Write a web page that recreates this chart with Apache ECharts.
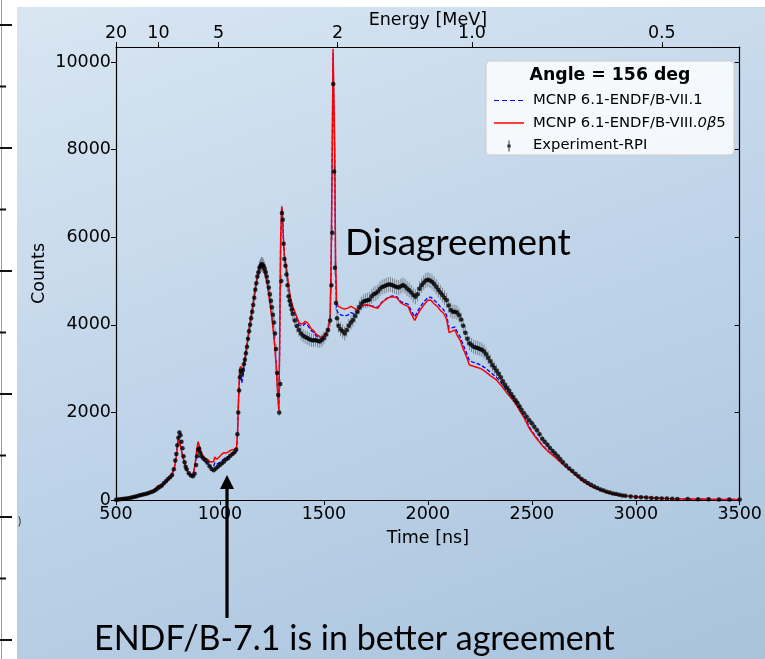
<!DOCTYPE html>
<html><head><meta charset="utf-8">
<script src="https://cdn.jsdelivr.net/npm/echarts@6/dist/echarts.min.js"></script>
<style>
html,body{margin:0;padding:0;background:#fff;overflow:hidden;}
#bg{position:absolute;left:17px;top:7px;width:748px;height:652px;background:linear-gradient(160deg,#d9e6f2 0%,#bfd4e9 50%,#a9c3dd 100%);}
#main{position:absolute;left:0;top:0;width:765px;height:659px;}
</style></head><body>
<div id="bg"></div><div id="main"></div>
<script>
// ---- data ----
const timeTicks = [500, 1000, 1500, 2000, 2500, 3000, 3500];
const countTicks = [0, 2000, 4000, 6000, 8000, 10000];
const energyLabels = ['20', '10', '5', '2', '1.0', '0.5'];
const energyValues = [20, 10, 5, 2, 1.0, 0.5];
// time-of-flight conversion t[ns] = tofOffset + tofConst / sqrt(E[MeV])
const tofOffset = 7;
const tofConst = 2205;

const seriesNames = ['MCNP 6.1-ENDF/B-VII.1', 'MCNP 6.1-ENDF/B-VIII.0β5', 'Experiment-RPI'];

// experiment: [time, counts, error]
const expData = [
[500,8,5],[510,12,5],[520,18,6],[530,22,6],[540,28,6],[550,35,7],[560,42,7],[570,52,8],[580,62,8],[590,75,9],[600,88,10],[610,100,10],[620,112,11],[630,125,11],[640,138,12],[650,150,12],[660,165,13],[670,180,13],[680,200,14],[690,230,15],[700,260,16],[710,295,17],[720,330,18],[730,380,20],[740,430,21],[750,480,22],[760,520,23],[770,570,24],[778,700,26],[785,900,30],[790,1050,32],[795,1250,35],[800,1420,38],[805,1540,40],[810,1480,40],[815,1330,36],[820,1180,34],[825,1000,32],[830,860,30],[835,760,28],[840,700,26],[850,610,25],[860,560,24],[870,540,23],[878,600,24],[885,800,28],[890,1000,32],[895,1150,34],[900,1170,34],[905,1080,33],[910,1000,32],[920,950,31],[930,910,30],[940,850,29],[950,770,28],[960,710,27],[970,680,26],[980,720,27],[990,760,28],[1000,800,28],[1010,840,29],[1020,880,30],[1030,930,30],[1040,960,31],[1050,1010,32],[1060,1050,32],[1070,1090,33],[1078,1150,34],[1084,1500,40],[1088,2000,45],[1092,2500,50],[1096,2800,60],[1100,2950,70],[1105,2880,70],[1110,2960,80],[1115,3100,80],[1120,3200,90],[1125,3350,90],[1130,3500,100],[1135,3680,100],[1140,3850,110],[1145,4000,110],[1150,4150,120],[1155,4300,120],[1160,4450,130],[1165,4620,130],[1170,4800,140],[1175,4950,140],[1180,5100,150],[1185,5200,150],[1190,5300,160],[1195,5350,160],[1200,5380,170],[1205,5370,170],[1210,5340,160],[1215,5280,160],[1220,5200,150],[1225,5100,150],[1230,4980,150],[1235,4850,150],[1240,4700,140],[1245,4550,140],[1250,4400,140],[1255,4230,130],[1260,4050,130],[1265,3800,120],[1270,3450,110],[1275,2900,100],[1280,2400,90],[1285,2000,80],[1290,2650,100],[1295,5000,140],[1298,6550,170],[1302,6400,170],[1306,5850,160],[1310,5500,160],[1315,5350,160],[1320,5150,160],[1325,4900,150],[1330,4650,150],[1335,4550,150],[1340,4450,150],[1345,4350,150],[1350,4250,150],[1360,4100,150],[1370,3970,150],[1380,3880,150],[1390,3800,150],[1400,3750,150],[1410,3720,150],[1420,3700,150],[1430,3670,150],[1440,3650,150],[1450,3640,150],[1460,3650,150],[1470,3630,150],[1480,3620,150],[1490,3650,150],[1500,3700,150],[1510,3780,150],[1520,3880,150],[1530,4100,150],[1536,4900,160],[1540,6100,170],[1545,9500,200],[1549,7500,180],[1553,5300,160],[1558,4500,160],[1563,4150,160],[1570,3980,160],[1580,3900,160],[1590,3850,160],[1600,3800,160],[1610,3880,160],[1620,3980,160],[1630,4050,160],[1640,4110,160],[1650,4200,160],[1660,4300,160],[1670,4400,160],[1680,4480,160],[1690,4530,160],[1700,4550,170],[1710,4560,170],[1720,4580,170],[1730,4650,170],[1740,4700,170],[1750,4720,170],[1760,4760,170],[1770,4820,170],[1780,4860,170],[1790,4880,170],[1800,4900,170],[1810,4920,170],[1820,4920,170],[1830,4900,170],[1840,4880,170],[1850,4860,170],[1860,4850,170],[1870,4880,170],[1880,4910,170],[1890,4880,170],[1900,4830,170],[1910,4790,170],[1920,4740,170],[1930,4680,170],[1940,4640,170],[1950,4700,170],[1960,4820,170],[1970,4900,170],[1980,4960,170],[1990,5010,170],[2000,5030,170],[2010,5010,170],[2020,4980,170],[2030,4930,170],[2040,4870,170],[2050,4800,170],[2060,4740,170],[2070,4680,170],[2080,4620,170],[2090,4560,170],[2100,4440,170],[2110,4340,170],[2120,4300,160],[2130,4300,160],[2140,4280,160],[2150,4220,160],[2160,4120,160],[2170,3980,160],[2180,3820,160],[2190,3680,160],[2200,3580,160],[2210,3540,160],[2220,3500,160],[2230,3480,160],[2240,3470,160],[2250,3450,160],[2260,3430,160],[2270,3390,160],[2280,3330,150],[2290,3250,150],[2300,3170,150],[2310,3080,140],[2320,3020,140],[2330,2950,140],[2340,2880,130],[2350,2800,130],[2360,2710,130],[2370,2630,120],[2380,2560,120],[2390,2500,120],[2400,2420,110],[2410,2350,110],[2420,2280,110],[2430,2220,100],[2440,2140,100],[2450,2060,100],[2462,1980,90],[2475,1900,90],[2487,1820,90],[2500,1750,80],[2512,1670,80],[2525,1590,80],[2537,1500,70],[2550,1400,70],[2562,1330,65],[2575,1260,65],[2587,1190,60],[2600,1120,60],[2612,1060,60],[2625,1000,55],[2637,930,55],[2650,860,55],[2665,790,50],[2680,720,50],[2695,660,45],[2710,600,45],[2725,540,40],[2740,480,40],[2755,435,38],[2770,390,36],[2785,350,34],[2800,310,32],[2815,275,30],[2830,240,28],[2845,215,26],[2860,190,25],[2875,170,24],[2890,150,22],[2905,135,20],[2920,120,20],[2935,105,18],[2950,95,18],[2975,82,16],[3000,70,15],[3025,62,14],[3050,55,13],[3075,47,12],[3100,40,12],[3125,36,11],[3150,32,10],[3175,28,10],[3200,25,9],[3250,21,8],[3300,18,8],[3350,16,7],[3400,14,7],[3450,13,7],[3500,12,6]
];

// MCNP 6.1 with ENDF/B-VII.1 (blue dashed)
const endf71 = [
[500,10],[550,30],[600,80],[650,140],[680,200],[700,300],[710,320],[720,300],[740,420],[760,500],[780,720],[790,1050],[800,1450],[805,1440],[810,1300],[820,1020],[830,840],[840,700],[850,600],[860,570],[870,560],[880,760],[890,1100],[895,1220],[900,1180],[910,1020],[920,940],[930,880],[940,830],[950,780],[960,760],[970,770],[975,850],[985,820],[1000,860],[1010,900],[1020,940],[1030,960],[1040,990],[1050,1020],[1060,1050],[1070,1080],[1080,1120],[1085,1550],[1090,2350],[1095,2850],[1100,2800],[1105,2670],[1110,2800],[1120,3150],[1130,3500],[1140,3860],[1150,4180],[1160,4480],[1170,4830],[1180,5100],[1190,5310],[1200,5360],[1210,5300],[1220,5150],[1230,4900],[1240,4550],[1250,4200],[1260,3750],[1270,3150],[1278,2450],[1283,2080],[1287,3400],[1292,5900],[1297,6650],[1300,6550],[1305,5950],[1310,5550],[1320,5250],[1330,4850],[1340,4550],[1350,4370],[1360,4250],[1370,4130],[1380,4000],[1390,3970],[1400,3980],[1410,4030],[1420,4000],[1430,3930],[1440,3860],[1450,3830],[1460,3760],[1470,3720],[1480,3700],[1490,3700],[1500,3740],[1510,3790],[1520,3880],[1530,4150],[1535,5400],[1540,7900],[1544,10200],[1548,10200],[1552,7800],[1556,5300],[1561,4350],[1570,4250],[1585,4220],[1600,4200],[1615,4220],[1630,4280],[1645,4250],[1665,4280],[1680,4400],[1700,4450],[1720,4440],[1740,4420],[1760,4400],[1775,4500],[1790,4560],[1810,4630],[1830,4660],[1850,4640],[1870,4530],[1890,4490],[1905,4470],[1920,4320],[1937,4180],[1950,4300],[1965,4420],[1980,4520],[2000,4620],[2015,4630],[2030,4560],[2045,4500],[2060,4410],[2075,4350],[2090,4220],[2102,3920],[2115,3930],[2130,3950],[2142,3830],[2155,3730],[2170,3540],[2185,3370],[2200,3180],[2215,3150],[2235,3120],[2255,3080],[2280,3000],[2300,2920],[2330,2800],[2355,2660],[2380,2500],[2410,2330],[2430,2180],[2460,1940],[2490,1650],[2520,1440],[2554,1230],[2585,1090],[2619,950],[2650,810],[2683,690],[2715,555],[2747,425],[2780,325],[2827,232],[2870,162],[2907,117],[2950,96],[3003,76],[3080,50],[3147,35],[3230,25],[3308,20],[3400,14],[3500,10]
];

// MCNP 6.1 with ENDF/B-VIII.0beta5 (red solid)
const endf80 = [
[500,10],[550,30],[600,80],[650,140],[680,200],[700,320],[710,340],[720,300],[740,420],[760,500],[780,700],[790,1000],[800,1400],[805,1380],[810,1250],[820,1000],[830,830],[840,700],[850,600],[860,580],[870,570],[880,800],[890,1200],[895,1330],[900,1250],[910,1080],[920,1000],[930,950],[940,930],[950,880],[960,870],[970,880],[975,980],[985,930],[1000,1000],[1010,1050],[1020,1080],[1030,1070],[1040,1100],[1050,1130],[1060,1150],[1070,1160],[1080,1200],[1085,1600],[1090,2400],[1095,3000],[1100,3050],[1110,2950],[1120,3250],[1130,3550],[1140,3900],[1150,4200],[1160,4500],[1170,4850],[1180,5100],[1190,5300],[1200,5320],[1210,5250],[1220,5100],[1230,4850],[1240,4500],[1250,4150],[1260,3700],[1270,3100],[1278,2400],[1283,2050],[1287,3500],[1292,6000],[1297,6700],[1300,6600],[1305,6000],[1310,5600],[1320,5300],[1330,4900],[1340,4600],[1350,4420],[1360,4300],[1370,4180],[1380,4050],[1390,4020],[1400,4030],[1410,4080],[1420,4050],[1430,3980],[1440,3900],[1450,3870],[1460,3800],[1470,3760],[1480,3730],[1490,3720],[1500,3760],[1510,3800],[1520,3900],[1530,4200],[1535,5500],[1540,8000],[1544,10300],[1548,10300],[1552,8000],[1556,5500],[1561,4500],[1570,4420],[1585,4380],[1600,4360],[1615,4380],[1630,4420],[1645,4380],[1665,4330],[1680,4420],[1700,4460],[1720,4440],[1740,4400],[1760,4380],[1775,4490],[1790,4550],[1810,4620],[1830,4640],[1850,4620],[1870,4500],[1890,4450],[1905,4420],[1920,4250],[1937,4100],[1950,4230],[1965,4350],[1980,4450],[2000,4560],[2015,4560],[2030,4480],[2045,4420],[2060,4330],[2075,4270],[2090,4130],[2102,3820],[2115,3850],[2130,3880],[2142,3750],[2155,3650],[2170,3450],[2185,3280],[2200,3080],[2215,3060],[2235,3030],[2255,3000],[2280,2920],[2300,2840],[2330,2740],[2355,2600],[2380,2440],[2410,2280],[2430,2130],[2460,1900],[2490,1620],[2520,1420],[2554,1220],[2585,1080],[2619,950],[2650,810],[2683,685],[2715,550],[2747,420],[2780,320],[2827,230],[2870,160],[2907,115],[2950,95],[3003,75],[3080,50],[3147,35],[3230,25],[3308,20],[3400,14],[3500,10]
];

// ---- chart ----
const energyTimes = energyValues.map(E => tofOffset + tofConst / Math.sqrt(E));
const FONT = 'DejaVu Sans';
const FS = 17.5;
const LFS = 14.8;
const chart = echarts.init(document.getElementById('main'), null, {renderer: 'canvas'});

const axisCommon = {
  axisLine: {show: true, onZero: false, lineStyle: {color: '#000', width: 1.2}},
  splitLine: {show: false},
  axisLabel: {color: '#000', fontFamily: FONT, fontSize: FS, formatter: v => String(v)},
  nameTextStyle: {color: '#000', fontFamily: FONT, fontSize: FS},
  nameMoveOverlap: false
};

// legend icons (bbox padded to 30x14 with tiny corner points)
const BOX = ' M0,0 L0.01,0 L0,0.01 Z M30,14 L29.99,14 L30,13.99 Z';
const redIcon = 'path://M0,6.3 L30,6.3 L30,7.7 L0,7.7 Z' + BOX;
const blueIcon = 'path://M0,6.4 L5,6.4 L5,7.6 L0,7.6 Z M8,6.4 L13,6.4 L13,7.6 L8,7.6 Z M16,6.4 L21,6.4 L21,7.6 L16,7.6 Z M24,6.4 L29,6.4 L29,7.6 L24,7.6 Z' + BOX;
const expIcon = 'path://M14.5,2 L15.5,2 L15.5,13 L14.5,13 Z M13.4,6 L16.6,6 L16.6,9 L13.4,9 Z' + BOX;

const option = {
  animation: false,
  backgroundColor: 'transparent',
  grid: {left: 116, right: 25, top: 47, bottom: 159, containLabel: false},
  xAxis: [
    Object.assign({}, axisCommon, {
      type: 'value', position: 'bottom', min: 500, max: 3500, interval: 500,
      name: 'Time [ns]', nameLocation: 'middle', nameGap: 29,
      axisTick: {show: true, inside: false, length: 5, lineStyle: {color: '#000'}},
      axisLabel: Object.assign({}, axisCommon.axisLabel, {margin: 5})
    }),
    Object.assign({}, axisCommon, {
      type: 'value', position: 'top', min: 500, max: 3500,
      name: 'Energy [MeV]', nameLocation: 'middle', nameGap: 18,
      axisTick: {show: true, inside: false, length: 5, customValues: energyTimes, lineStyle: {color: '#000'}},
      axisLabel: Object.assign({}, axisCommon.axisLabel, {
        margin: 5, customValues: energyTimes,
        formatter: function (v) {
          const i = energyTimes.findIndex(x => Math.abs(x - v) < 0.5);
          return i >= 0 ? energyLabels[i] : '';
        }
      })
    })
  ],
  yAxis: [
    Object.assign({}, axisCommon, {
      type: 'value', position: 'left', min: 0, max: 10342, interval: 2000,
      name: 'Counts', nameLocation: 'middle', nameGap: 68, nameRotate: 90,
      axisTick: {show: true, inside: false, length: 5, customValues: countTicks, lineStyle: {color: '#000'}},
      axisLabel: Object.assign({}, axisCommon.axisLabel, {margin: 5, customValues: countTicks})
    }),
    Object.assign({}, axisCommon, {
      type: 'value', position: 'right', min: 0, max: 10342, interval: 2000,
      axisTick: {show: true, inside: true, length: 5, customValues: countTicks, lineStyle: {color: '#000'}},
      axisLabel: {show: false}
    })
  ],
  legend: {
    orient: 'vertical', left: 489, top: 88, z: 20,
    itemWidth: 30, itemHeight: 14, itemGap: 7.5,
    selectedMode: false,
    textStyle: {fontFamily: FONT, fontSize: LFS, color: '#000', padding: [0, 0, 0, 4],
      rich: {n: {fontFamily: FONT, fontSize: LFS, color: '#000'}, i: {fontFamily: FONT, fontSize: LFS, fontStyle: 'italic', color: '#000'}}},
    formatter: function (name) {
      if (name === seriesNames[1]) return '{n|MCNP 6.1-ENDF/B-VIII.}{i|0β}{n|5}';
      return name;
    },
    data: [
      {name: seriesNames[0], icon: blueIcon, itemStyle: {color: '#0000ff', borderWidth: 0}},
      {name: seriesNames[1], icon: redIcon, itemStyle: {color: '#ff0000', borderWidth: 0}},
      {name: seriesNames[2], icon: expIcon, itemStyle: {color: '#000', borderWidth: 0}}
    ]
  },
  series: [
    {
      name: seriesNames[0], type: 'line', data: endf71, symbol: 'none', z: 3,
      lineStyle: {color: '#0000ff', width: 1.3, type: [4, 2]}, itemStyle: {color: '#0000ff'}
    },
    {
      name: seriesNames[1], type: 'line', data: endf80, symbol: 'none', z: 4,
      lineStyle: {color: '#ff0000', width: 1.5}, itemStyle: {color: '#ff0000'}
    },
    {
      name: 'expErr', type: 'custom', data: expData, z: 5, encode: {x: 0, y: 1},
      renderItem: function (params, api) {
        const t = api.value(0), c = api.value(1), e = api.value(2);
        const p1 = api.coord([t, c - e]), p2 = api.coord([t, c + e]);
        return {type: 'line', shape: {x1: p1[0], y1: p1[1], x2: p2[0], y2: p2[1]},
          style: {stroke: 'rgba(70,70,70,0.55)', lineWidth: 1}};
      }
    },
    {
      name: seriesNames[2], type: 'scatter', data: expData.map(d => [d[0], d[1]]), z: 6,
      symbol: 'circle', symbolSize: 4.5, itemStyle: {color: '#000'}
    }
  ],
  graphic: [
    // left white strip of the neighbouring slide element
    {type: 'line', shape: {x1: 1.5, y1: 0, x2: 1.5, y2: 659}, style: {stroke: '#999', lineWidth: 1}},
    ...Array.from({length: 11}, (_, i) => ({type: 'line', shape: {x1: 0, y1: 25 + 61.5 * i, x2: i % 2 === 0 ? 12 : 6, y2: 25 + 61.5 * i}, style: {stroke: '#111', lineWidth: 2}})),
    {type: 'text', x: 18, y: 515, style: {text: ')', fontSize: 12, fill: '#333', fontFamily: 'Lato'}},
    // legend frame and title
    {type: 'rect', z: -1, shape: {x: 486, y: 61, width: 248, height: 94, r: 4}, style: {fill: 'rgba(255,255,255,0.82)', stroke: '#cccccc', lineWidth: 1}},
    {type: 'text', x: 610, y: 75.5, z: 11, style: {text: 'Angle = 156 deg', fontFamily: FONT, fontWeight: 'bold', fontSize: 17.3, fill: '#000', align: 'center', verticalAlign: 'middle'}},
    // annotations
    {type: 'text', x: 345, y: 243, z: 11, style: {text: 'Disagreement', fontFamily: 'Lato', fontSize: 37, fill: '#000', verticalAlign: 'middle'}},
    {type: 'text', x: 94, y: 639, z: 11, style: {text: 'ENDF/B-7.1 is in better agreement', fontFamily: 'Lato', fontSize: 34, fill: '#000', verticalAlign: 'middle'}},
    {type: 'line', z: 12, shape: {x1: 227, y1: 486, x2: 227, y2: 618}, style: {stroke: '#000', lineWidth: 3.2}},
    {type: 'polygon', z: 12, shape: {points: [[227, 475], [220, 489], [234, 489]]}, style: {fill: '#000'}}
  ]
};
chart.setOption(option);
</script>
</body></html>
